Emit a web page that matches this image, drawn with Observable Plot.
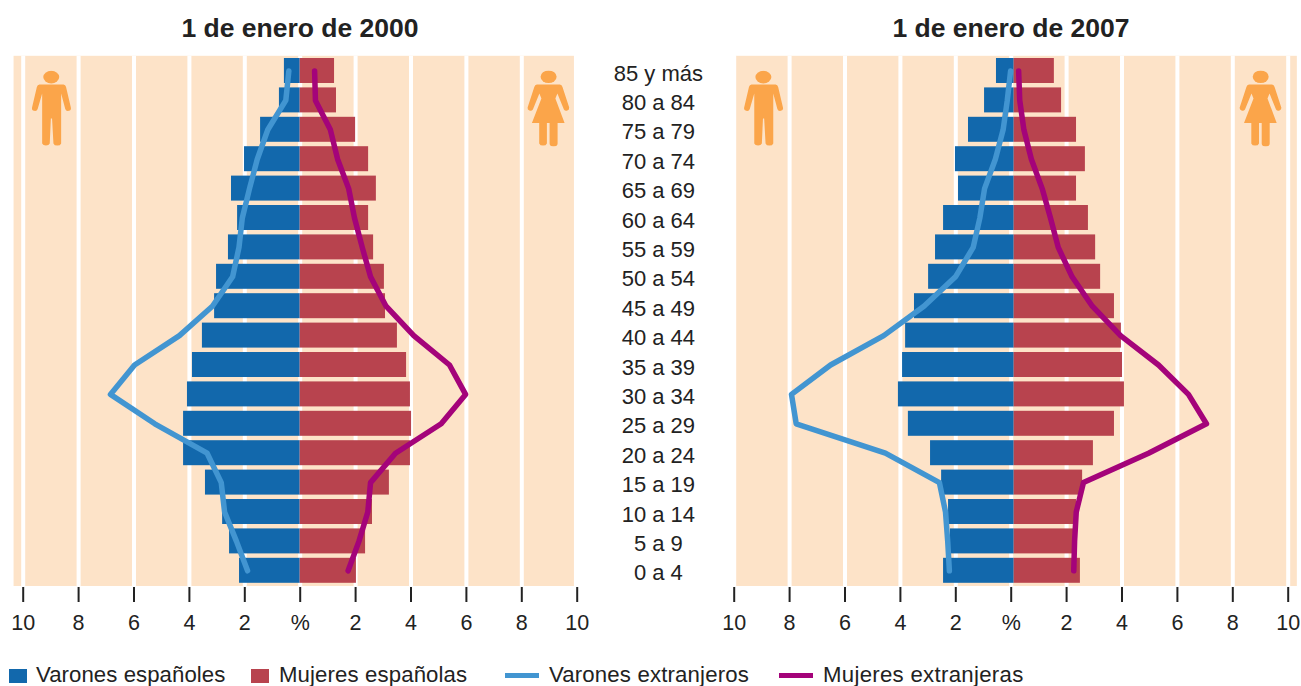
<!DOCTYPE html>
<html><head><meta charset="utf-8">
<script src="https://cdn.jsdelivr.net/npm/d3@7"></script>
<script src="https://cdn.jsdelivr.net/npm/@observablehq/plot@0.6"></script>
<style>
html,body{margin:0;padding:0;background:#fff}
#page{position:relative;width:1301px;height:686px;overflow:hidden;font-family:"Liberation Sans",Arial,sans-serif;color:#222}
#page svg{position:absolute;top:0;left:0;overflow:visible;background:transparent}
.title{position:absolute;top:14px;width:400px;text-align:center;font-weight:bold;font-size:26.5px;line-height:28px;color:#222}
.lg{position:absolute;top:663px;font-size:22.2px;line-height:24px;white-space:nowrap;color:#222}
.sw{position:absolute}
</style></head><body>
<div id="page"></div>
<script>
const ages = ["85 y más","80 a 84","75 a 79","70 a 74","65 a 69","60 a 64","55 a 59","50 a 54","45 a 49","40 a 44","35 a 39","30 a 34","25 a 29","20 a 24","15 a 19","10 a 14","5 a 9","0 a 4"];
const tickValues = [-10,-8,-6,-4,-2,0,2,4,6,8,10];

const varonesEsp2000 = [.57,.75,1.43,2.01,2.48,2.26,2.59,3.02,3.09,3.53,3.89,4.07,4.21,4.21,3.42,2.80,2.55,2.19];
const mujeresEsp2000 = [1.24,1.31,2.0,2.47,2.75,2.47,2.65,3.04,3.08,3.51,3.84,3.98,4.02,3.98,3.22,2.61,2.36,2.03];
const varonesExt2000 = [.41,.52,1.17,1.55,1.83,2.09,2.21,2.44,3.17,4.36,5.98,6.85,5.25,3.36,2.85,2.73,2.30,1.90];
const mujeresExt2000 = [.52,.55,1.09,1.35,1.75,1.96,2.24,2.54,3.10,4.1,5.39,5.97,5.09,3.44,2.54,2.44,2.12,1.73];

const varonesEsp2007 = [.64,1.07,1.65,2.12,2.01,2.55,2.84,3.09,3.6,3.92,4.03,4.18,3.82,3.02,2.62,2.37,2.30,2.55];
const mujeresEsp2007 = [1.45,1.71,2.25,2.57,2.25,2.68,2.94,3.12,3.62,3.87,3.91,3.98,3.62,2.86,2.47,2.25,2.18,2.39];
const varonesExt2007 = [.13,.25,.40,.68,1.07,1.24,1.48,2.12,3.26,4.71,6.63,8.04,7.87,4.65,2.70,2.48,2.40,2.34];
const mujeresExt2007 = [.16,.2,.35,.62,1.01,1.31,1.59,2.09,2.82,3.84,5.21,6.29,6.94,4.85,2.5,2.24,2.18,2.15];

const colors = {vEsp:"#1268ac", mEsp:"#b8434e", vExt:"#4295d1", mExt:"#a4037a", bg:"#fde3c8", icon:"#fba54a", ink:"#222"};
const FONT = '"Liberation Sans",Arial,sans-serif';

const svgUri = s => "data:image/svg+xml," + encodeURIComponent(s);
const maleIcon = svgUri(`<svg xmlns="http://www.w3.org/2000/svg" viewBox="0 0 40 76"><ellipse cx="19.8" cy="6.7" rx="8" ry="6.3" fill="${colors.icon}"/><path fill="${colors.icon}" d="M8 14H32Q34 14 34.6 16.5L39.4 37A2.9 2.9 0 0 1 33.8 38.5L29.7 23V73A4 3 0 0 1 22 73L20.6 48H19.4L18.3 73A4 3 0 0 1 10.7 73V23L6.2 38.5A2.9 2.9 0 0 1 .6 37L5.4 16.5Q6 14 8 14Z"/></svg>`);
const femaleIcon = svgUri(`<svg xmlns="http://www.w3.org/2000/svg" viewBox="0 0 43 76"><ellipse cx="21.7" cy="6.3" rx="8" ry="6.3" fill="${colors.icon}"/><path fill="${colors.icon}" d="M10 14H33Q35 14 35.6 16.5L42.3 37A2.9 2.9 0 0 1 37 39L30.5 23L28.5 28L37.7 52.7H30.7V73A4 3 0 0 1 22.7 73V52.7H20V73A4 3 0 0 1 12.3 73V52.7H5L14.5 28L12.5 23L6 39A2.9 2.9 0 0 1 .7 37L7.4 16.5Q8 14 10 14Z"/></svg>`);

function panel({vEsp,mEsp,vExt,mExt,range,bg,iconX,dx,labels}) {
  const rows = ages.map((age,i)=>({age,vEsp:vEsp[i],mEsp:mEsp[i],vExt:vExt[i],mExt:mExt[i]}));
  return Plot.plot({
    width: 1301, height: 640,
    marginTop: 55.8, marginBottom: 55, marginLeft: 0, marginRight: 0,
    x: {domain:[-10,10], range, axis:null},
    y: {type:"band", domain:ages, paddingInner:.15, paddingOuter:.075, round:false, axis:null},
    style: {fontFamily:FONT, fontSize:"21.5px", color:colors.ink, background:"transparent", overflow:"visible"},
    marks: [
      Plot.rectX([0],{x1:bg[0],x2:bg[1],fill:colors.bg,insetBottom:-1}),
      Plot.ruleX(tickValues,{stroke:"#fff",strokeWidth:4,insetBottom:-1}),
      Plot.barX(rows,{x1:0,x2:d=>-d.vEsp,y:"age",fill:colors.vEsp,dx}),
      Plot.barX(rows,{x1:0,x2:d=>d.mEsp,y:"age",fill:colors.mEsp,dx}),
      Plot.line(rows,{x:d=>-d.vExt,y:"age",stroke:colors.vExt,strokeWidth:5.5,strokeLinecap:"round",strokeLinejoin:"round",dx}),
      Plot.line(rows,{x:d=>d.mExt,y:"age",stroke:colors.mExt,strokeWidth:5.5,strokeLinecap:"round",strokeLinejoin:"round",dx}),
      Plot.image([iconX[0]],{x:d=>d,y:()=>"80 a 84",dy:8,src:maleIcon,width:40,height:76}),
      Plot.image([iconX[1]],{x:d=>d,y:()=>"80 a 84",dy:8,src:femaleIcon,width:43,height:76}),
      Plot.axisX(tickValues,{anchor:"bottom",tickSize:15,tickPadding:12,strokeWidth:2,stroke:colors.ink,fill:colors.ink,dy:2,
        tickFormat:d=>d===0?"%":String(Math.abs(d)),fontSize:21.5,label:null}),
      labels ? Plot.text(ages,{x:()=>12.93,y:d=>d,text:d=>d,fontSize:22,fill:colors.ink,dy:2.5}) : null
    ]
  });
}

const page = document.getElementById("page");
page.append(panel({vEsp:varonesEsp2000,mEsp:mujeresEsp2000,vExt:varonesExt2000,mExt:mujeresExt2000,range:[22.7,576.7],bg:[-10.33,9.9],iconX:[-8.98,8.96],dx:0,labels:true}));
page.append(panel({vEsp:varonesEsp2007,mEsp:mujeresEsp2007,vExt:varonesExt2007,mExt:mujeresExt2007,range:[733.7,1287.7],bg:[-9.92,10.33],iconX:[-8.94,9.0],dx:3,labels:false}));

function add(cls,style,text){const e=document.createElement("div");e.className=cls;e.style.cssText=style;if(text)e.textContent=text;page.append(e);}
add("title","left:100px","1 de enero de 2000");
add("title","left:811px","1 de enero de 2007");
add("sw",`left:9px;top:669px;width:18px;height:14px;background:${colors.vEsp}`);
add("lg","left:36px;letter-spacing:.06px","Varones españoles");
add("sw",`left:251px;top:669px;width:18px;height:14px;background:${colors.mEsp}`);
add("lg","left:279px;letter-spacing:.12px","Mujeres españolas");
add("sw",`left:505px;top:673px;width:34px;height:5px;background:${colors.vExt}`);
add("lg","left:549px;letter-spacing:.16px","Varones extranjeros");
add("sw",`left:779px;top:673px;width:34px;height:5px;background:${colors.mExt}`);
add("lg","left:823px;letter-spacing:.3px","Mujeres extranjeras");
</script>
</body></html>
